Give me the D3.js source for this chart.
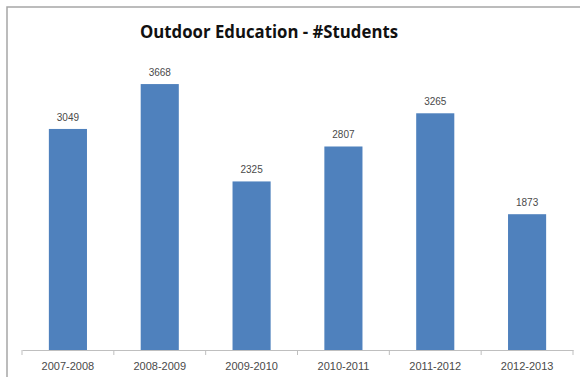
<!DOCTYPE html>
<html>
<head>
<meta charset="utf-8">
<script src="https://cdn.jsdelivr.net/npm/d3@7"></script>
<style>
  body { margin: 0; background: #fff; }
  svg { display: block; }
</style>
</head>
<body>
<div id="chart"></div>
<script>
// chart data
const seasons = ["2007-2008", "2008-2009", "2009-2010", "2010-2011", "2011-2012", "2012-2013"];
const students = [3049, 3668, 2325, 2807, 3265, 1873];
const yDomain = [0, 4000];

const width = 580;
const height = 377;

const svg = d3.select("#chart").append("svg")
    .attr("width", width)
    .attr("height", height);

// outer chart frame (runs off the right and bottom edges)
svg.append("rect")
    .attr("x", 7)
    .attr("y", 7)
    .attr("width", 600)
    .attr("height", 400)
    .attr("fill", "#fff")
    .attr("stroke", "#a6a6a6")
    .attr("stroke-width", 1.5);

// title
svg.append("text")
    .attr("x", 269)
    .attr("y", 38)
    .attr("text-anchor", "middle")
    .attr("font-family", "'Open Sans', sans-serif")
    .attr("font-weight", "bold")
    .attr("font-size", 17)
    .attr("textLength", 258)
    .attr("lengthAdjust", "spacingAndGlyphs")
    .attr("fill", "#111")
    .text("Outdoor Education - #Students");

// scales
const x = d3.scaleBand()
    .domain(seasons)
    .range([22, 573])
    .paddingInner(0.585)
    .paddingOuter(0.2925);

const y = d3.scaleLinear()
    .domain(yDomain)
    .range([350, 60]);

// bars
svg.selectAll(".bar")
    .data(students)
    .enter()
    .append("rect")
    .attr("class", "bar")
    .attr("x", (d, i) => x(seasons[i]))
    .attr("y", d => y(d))
    .attr("width", x.bandwidth())
    .attr("height", d => y(0) - y(d))
    .attr("fill", "#4f81bd");

// value labels
svg.selectAll(".label")
    .data(students)
    .enter()
    .append("text")
    .attr("class", "label")
    .attr("x", (d, i) => x(seasons[i]) + x.bandwidth() / 2)
    .attr("y", d => y(d) - 8)
    .attr("text-anchor", "middle")
    .attr("font-family", "'Liberation Sans', sans-serif")
    .attr("font-size", 10)
    .attr("fill", "#4a4a4a")
    .text(d => d);

// x axis
const xAxis = d3.axisBottom(x)
    .tickSize(0)
    .tickSizeOuter(0);

const gx = svg.append("g")
    .attr("transform", `translate(0, ${y(0)})`)
    .call(xAxis);

gx.select(".domain")
    .attr("stroke", "#bfbfbf");

gx.selectAll(".tick text")
    .attr("dy", null)
    .attr("y", 20)
    .attr("font-family", "'Liberation Sans', sans-serif")
    .attr("font-size", 11)
    .attr("fill", "#4a4a4a");

// tick marks sit between the categories, like the original
const edges = d3.range(seasons.length + 1).map(i => 22 + i * (551 / seasons.length));
svg.selectAll(".edge")
    .data(edges)
    .enter()
    .append("line")
    .attr("class", "edge")
    .attr("x1", d => d)
    .attr("x2", d => d)
    .attr("y1", y(0))
    .attr("y2", y(0) + 5)
    .attr("stroke", "#bfbfbf");
</script>
</body>
</html>
